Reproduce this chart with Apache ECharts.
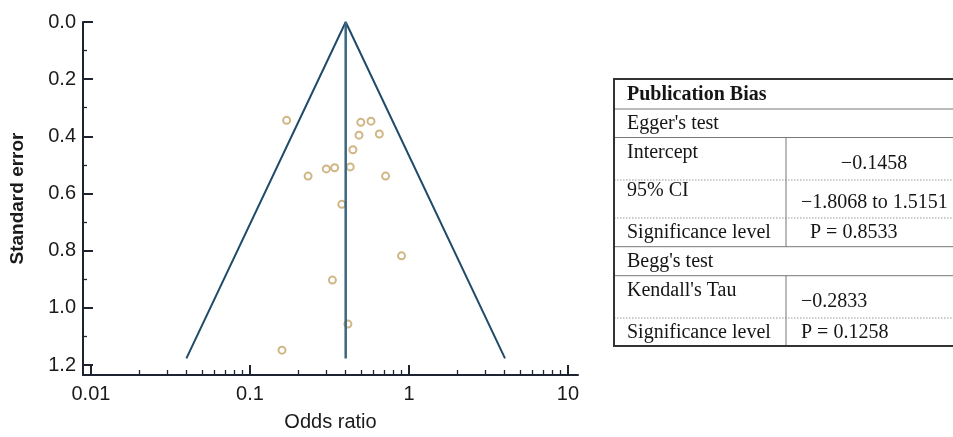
<!DOCTYPE html>
<html>
<head>
<meta charset="utf-8">
<script src="https://cdn.jsdelivr.net/npm/echarts@6/dist/echarts.min.js"></script>
<style>
html,body{margin:0;padding:0;background:#fff;}
#chart{width:953px;height:437px;}
</style>
</head>
<body>
<div id="chart"></div>
<script>
// ---- data ----
const oddsRatios     = [0.170, 0.498, 0.577, 0.485, 0.651, 0.444, 0.302, 0.341, 0.427, 0.232, 0.713, 0.378, 0.898, 0.330, 0.413, 0.159];
const standardErrors = [0.344, 0.351, 0.347, 0.396, 0.392, 0.447, 0.514, 0.510, 0.507, 0.539, 0.539, 0.638, 0.818, 0.903, 1.057, 1.148];
const pooledOR = 0.40;
const funnelMaxSE = 1.177;
const funnelZ = 1.96;
const xTickValues = [0.01, 0.1, 1, 10];
const xMinorTickValues = [0.02,0.03,0.04,0.05,0.06,0.07,0.08,0.09,0.2,0.3,0.4,0.5,0.6,0.7,0.8,0.9,2,3,4,5,6,7,8,9];
const yTickValues = [0, 0.2, 0.4, 0.6, 0.8, 1.0, 1.2];
const yMinorTickValues = [0.1, 0.3, 0.5, 0.7, 0.9, 1.1];
const tableTitle = 'Publication Bias';
const eggerHeader = "Egger's test";
const eggerLabels = ['Intercept', '95% CI', 'Significance level'];
const eggerValues = ['\u22120.1458', '\u22121.8068 to 1.5151', 'P = 0.8533'];
const beggHeader = "Begg's test";
const beggLabels = ["Kendall's Tau", 'Significance level'];
const beggValues = ['\u22120.2833', 'P = 0.1258'];

// ---- build ----
const lg = v => Math.log10(v);
const scatterData = oddsRatios.map((o, i) => [lg(o), standardErrors[i]]);
const funnelData = [
  [lg(pooledOR * Math.exp(-funnelZ * funnelMaxSE)), funnelMaxSE],
  [lg(pooledOR), 0],
  [lg(pooledOR * Math.exp(funnelZ * funnelMaxSE)), funnelMaxSE]
];
const centerData = [[lg(pooledOR), 0], [lg(pooledOR), funnelMaxSE]];

const axisColor = '#1d2330';
const sans = 'Liberation Sans, Arial, sans-serif';
const serif = 'Liberation Serif, Times New Roman, serif';
const X_MIN = -2.05, X_MAX = 1.063;

const fmtX = v => String(Number(Math.pow(10, v).toPrecision(2)));

// table graphics
const TL = 614, TR = 953, TT = 79, TB = 346, COL = 786;
const g = [];
function hline(y, dashed, color, w) {
  g.push({type:'line', shape:{x1:TL, y1:y, x2:TR, y2:y}, style:{stroke:color||'#777', lineWidth:w||1, lineDash: dashed ? [1.5,1.5] : null}, silent:true});
}
function vline(x, y1, y2, color, w) {
  g.push({type:'line', shape:{x1:x, y1:y1, x2:x, y2:y2}, style:{stroke:color||'#777', lineWidth:w||1}, silent:true});
}
function txt(s, x, y, opts) {
  opts = opts || {};
  g.push({type:'text', x:x, y:y, silent:true, style:{text:s, fill:'#151515', font:(opts.bold?'bold ':'') + '20px ' + serif, textAlign:opts.align||'left', textVerticalAlign:'middle'}});
}
hline(109); hline(137.5); hline(246.7); hline(275.7);
hline(180, true, '#999'); hline(218, true, '#999'); hline(318, true, '#999');
vline(COL, 137.5, 246.7); vline(COL, 275.7, TB);
hline(TT, false, '#333', 2); hline(TB, false, '#333', 2);
vline(TL, TT - 1, TB + 1, '#333', 2);
txt(tableTitle, 627, 95, {bold:true});
txt(eggerHeader, 627, 124);
txt(eggerLabels[0], 627, 153);
txt(eggerLabels[1], 627, 191);
txt(eggerLabels[2], 627, 233);
txt(eggerValues[0], 874, 164, {align:'center'});
txt(eggerValues[1], 801, 203);
txt(eggerValues[2], 810, 233);
txt(beggHeader, 627, 262);
txt(beggLabels[0], 627, 291);
txt(beggLabels[1], 627, 333);
txt(beggValues[0], 801, 302);
txt(beggValues[1], 801, 333);

const chart = echarts.init(document.getElementById('chart'), null, {renderer:'canvas'});
chart.setOption({
  backgroundColor: '#fff',
  animation: false,
  grid: {left: 79, right: 375, top: 22, bottom: 59, containLabel: false},
  xAxis: [{
    type: 'value', min: X_MIN, max: X_MAX, position: 'bottom',
    name: 'Odds ratio', nameLocation: 'middle', nameGap: 37,
    nameTextStyle: {fontFamily: sans, fontSize: 20, color: '#1a1a1a'},
    axisLine: {show: true, onZero: false, lineStyle: {color: axisColor, width: 2}},
    axisTick: {show: true, inside: true, length: 10, customValues: xTickValues.map(lg), lineStyle: {color: axisColor, width: 2}},
    axisLabel: {show: true, customValues: xTickValues.map(lg), formatter: fmtX, margin: 9, fontFamily: sans, fontSize: 20, color: '#1a1a1a'},
    splitLine: {show: false}
  }, {
    type: 'value', min: X_MIN, max: X_MAX, position: 'bottom', offset: 0,
    axisLine: {show: false, onZero: false},
    axisTick: {show: true, inside: true, length: 5, customValues: xMinorTickValues.map(lg), lineStyle: {color: axisColor, width: 1.3}},
    axisLabel: {show: false},
    splitLine: {show: false}
  }],
  yAxis: [{
    type: 'value', inverse: true, min: 0, max: 1.235, position: 'left',
    name: 'Standard error', nameLocation: 'middle', nameGap: 56, nameRotate: 90,
    nameTextStyle: {fontFamily: sans, fontSize: 19, fontWeight: 'bold', color: '#1a1a1a'},
    axisLine: {show: true, onZero: false, lineStyle: {color: axisColor, width: 2}},
    axisTick: {show: true, inside: true, length: 10, customValues: yTickValues, lineStyle: {color: axisColor, width: 2}},
    axisLabel: {show: true, customValues: yTickValues, formatter: v => v.toFixed(1), margin: 7, fontFamily: sans, fontSize: 20, color: '#1a1a1a'},
    splitLine: {show: false}
  }, {
    type: 'value', inverse: true, min: 0, max: 1.235, position: 'left', offset: 0,
    axisLine: {show: false, onZero: false},
    axisTick: {show: true, inside: true, length: 4, customValues: yMinorTickValues, lineStyle: {color: axisColor, width: 1.3}},
    axisLabel: {show: false},
    splitLine: {show: false}
  }],
  series: [{
    type: 'scatter', xAxisIndex: 0, yAxisIndex: 0, data: scatterData,
    symbol: 'emptyCircle', symbolSize: 7, z: 2, silent: true,
    itemStyle: {color: '#c6a466', borderWidth: 1.4}
  }, {
    type: 'line', xAxisIndex: 0, yAxisIndex: 0, data: funnelData, showSymbol: false, symbol: 'none', z: 3, silent: true,
    lineStyle: {color: '#1f4b68', width: 2}
  }, {
    type: 'line', xAxisIndex: 0, yAxisIndex: 0, data: centerData, showSymbol: false, symbol: 'none', z: 3, silent: true,
    lineStyle: {color: '#3a6781', width: 2.5}
  }],
  graphic: g
});
</script>
</body>
</html>
